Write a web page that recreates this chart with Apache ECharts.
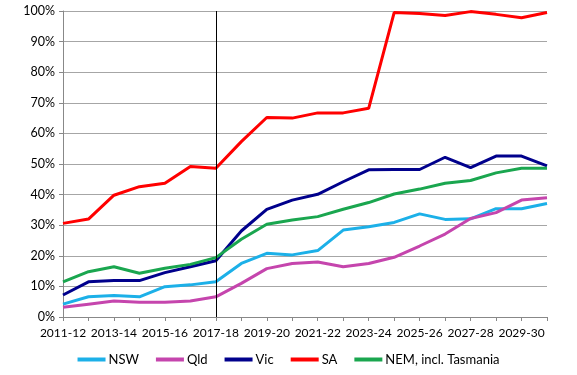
<!DOCTYPE html>
<html>
<head>
<meta charset="utf-8">
<script src="https://cdn.jsdelivr.net/npm/echarts@6/dist/echarts.min.js"></script>
<style>
  html, body { margin: 0; padding: 0; background: #fff; }
  #main { width: 577px; height: 375px; }
</style>
</head>
<body>
<div id="main"></div>
<script>
// years
const years = [
  "2011-12", "2012-13", "2013-14", "2014-15", "2015-16", "2016-17", "2017-18",
  "2018-19", "2019-20", "2020-21", "2021-22", "2022-23", "2023-24", "2024-25",
  "2025-26", "2026-27", "2027-28", "2028-29", "2029-30", "2030-31",
];

// share, %
const nsw = [4.2, 6.6, 7.0, 6.6, 9.9, 10.5, 11.5, 17.5, 20.8, 20.3, 21.7, 28.4, 29.5, 30.9, 33.7, 31.9, 32.1, 35.4, 35.4, 37.1];
const qld = [3.2, 4.2, 5.2, 4.8, 4.8, 5.2, 6.6, 11.0, 15.8, 17.5, 18.0, 16.4, 17.5, 19.5, 23.2, 27.1, 32.2, 34.1, 38.2, 39.0];
const vic = [7.2, 11.5, 11.9, 11.9, 14.5, 16.4, 18.4, 28.1, 35.2, 38.2, 40.1, 44.2, 48.1, 48.2, 48.2, 52.2, 48.8, 52.6, 52.6, 49.4];
const sa = [30.6, 32.0, 39.8, 42.6, 43.7, 49.2, 48.6, 57.3, 65.2, 65.0, 66.7, 66.7, 68.2, 99.5, 99.2, 98.5, 99.8, 98.9, 97.8, 99.5];
const nem = [11.5, 14.8, 16.4, 14.3, 15.9, 17.2, 19.4, 25.4, 30.3, 31.7, 32.8, 35.2, 37.4, 40.2, 41.8, 43.7, 44.6, 47.1, 48.6, 48.6];

const yTicks = [0, 10, 20, 30, 40, 50, 60, 70, 80, 90, 100];

const font = "Lato";

function line(name, data, color, extra) {
  return Object.assign({
    name: name,
    type: "line",
    data: data,
    symbol: "none",
    lineStyle: { color: color, width: 3 },
    itemStyle: { color: color },
  }, extra || {});
}

var chart = echarts.init(document.getElementById("main"), null, { renderer: "canvas" });
chart.setOption({
  animation: false,
  textStyle: { fontFamily: font },
  grid: { left: 63, right: 30, top: 11, bottom: 58 },
  legend: {
    bottom: 4,
    left: "center",
    itemWidth: 28,
    itemHeight: 4,
    itemGap: 17,
    icon: "rect",
    textStyle: { fontFamily: font, fontSize: 13, color: "#000", padding: [0, 0, 0, -2] },
    data: ["NSW", "Qld", "Vic", "SA", "NEM, incl. Tasmania"],
  },
  xAxis: {
    type: "category",
    data: years,
    boundaryGap: false,
    axisLine: { lineStyle: { color: "#888", width: 1 } },
    axisTick: { show: true, interval: 0, length: 4, lineStyle: { color: "#888" } },
    axisLabel: { interval: 1, color: "#000", fontSize: 12, fontFamily: font, margin: 10 },
  },
  yAxis: {
    type: "value",
    min: yTicks[0],
    max: yTicks[yTicks.length - 1],
    interval: 10,
    axisLine: { show: true, lineStyle: { color: "#888", width: 1 } },
    axisTick: { show: true, length: 4, lineStyle: { color: "#888" } },
    axisLabel: { color: "#000", fontSize: 12.5, fontFamily: font, margin: 8, formatter: "{value}%" },
    splitLine: { lineStyle: { color: "#a6a6a6", width: 1 } },
  },
  series: [
    line("NSW", nsw, "#1cb0e8"),
    line("Qld", qld, "#c545ad"),
    line("Vic", vic, "#00008c"),
    line("SA", sa, "#ff0000", {
      markLine: {
        silent: true,
        symbol: "none",
        label: { show: false },
        lineStyle: { color: "#000", width: 1, type: "solid" },
        data: [{ xAxis: "2017-18" }],
      },
    }),
    line("NEM, incl. Tasmania", nem, "#1aa64f"),
  ],
});
</script>
</body>
</html>
